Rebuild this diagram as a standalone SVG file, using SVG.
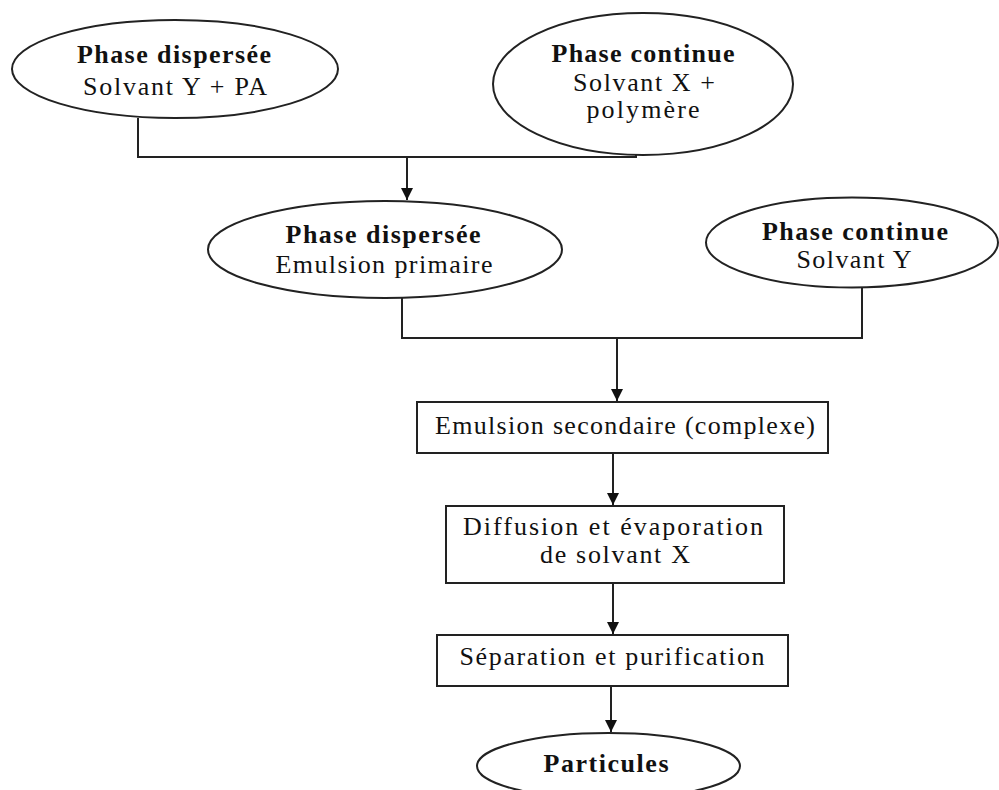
<svg xmlns="http://www.w3.org/2000/svg" width="999" height="790" viewBox="0 0 999 790">
<style>
.shape{fill:#fff;stroke:#222;stroke-width:2}
.conn{fill:none;stroke:#222;stroke-width:2}
text{font-family:"Liberation Serif","Times New Roman",serif;font-size:26px;fill:#111;text-anchor:middle}
.b{font-weight:bold}
</style>
<defs>
<marker id="arr" markerWidth="12" markerHeight="12" refX="12" refY="6" orient="auto" markerUnits="userSpaceOnUse">
<path d="M0,0 L12,6 L0,12 Z" fill="#111"/>
</marker>
</defs>
<rect width="999" height="790" fill="#fff"/>
<g id="connectors">
<path class="conn" d="M138,118 V157 H636 V155"/>
<path class="conn" d="M407,157 V200" marker-end="url(#arr)"/>
<path class="conn" d="M402,298 V338 H862 V287"/>
<path class="conn" d="M617,338 V401" marker-end="url(#arr)"/>
<path class="conn" d="M613,453 V505" marker-end="url(#arr)"/>
<path class="conn" d="M613,583 V634" marker-end="url(#arr)"/>
<path class="conn" d="M611,686 V732" marker-end="url(#arr)"/>
</g>
<g id="n1">
<ellipse class="shape" cx="175" cy="69" rx="163" ry="49"/>
<text class="b" x="174" y="63" textLength="194">Phase dispersée</text>
<text x="175" y="95" textLength="184">Solvant Y + PA</text>
</g>
<g id="n2">
<ellipse class="shape" cx="643" cy="84" rx="150" ry="71"/>
<text class="b" x="643" y="62" textLength="183">Phase continue</text>
<text x="644" y="91" textLength="142">Solvant X +</text>
<text x="643" y="118" textLength="113">polymère</text>
</g>
<g id="n3">
<ellipse class="shape" cx="385" cy="249.5" rx="177" ry="48.5"/>
<text class="b" x="383" y="243" textLength="195">Phase dispersée</text>
<text x="384" y="273" textLength="217">Emulsion primaire</text>
</g>
<g id="n4">
<ellipse class="shape" cx="852" cy="242.5" rx="146" ry="45"/>
<text class="b" x="855" y="240" textLength="186">Phase continue</text>
<text x="854" y="268" textLength="115">Solvant Y</text>
</g>
<g id="n5">
<rect class="shape" x="417" y="402" width="411" height="51"/>
<text x="625" y="434" textLength="380">Emulsion secondaire (complexe)</text>
</g>
<g id="n6">
<rect class="shape" x="446" y="506" width="338" height="77"/>
<text x="613" y="535" textLength="300">Diffusion et évaporation</text>
<text x="615" y="563" textLength="150">de solvant X</text>
</g>
<g id="n7">
<rect class="shape" x="437" y="635" width="351" height="51"/>
<text x="612" y="665" textLength="305">Séparation et purification</text>
</g>
<g id="n8">
<ellipse class="shape" cx="608.5" cy="766" rx="131.5" ry="33"/>
<text class="b" x="606" y="772" textLength="125">Particules</text>
</g>
</svg>
